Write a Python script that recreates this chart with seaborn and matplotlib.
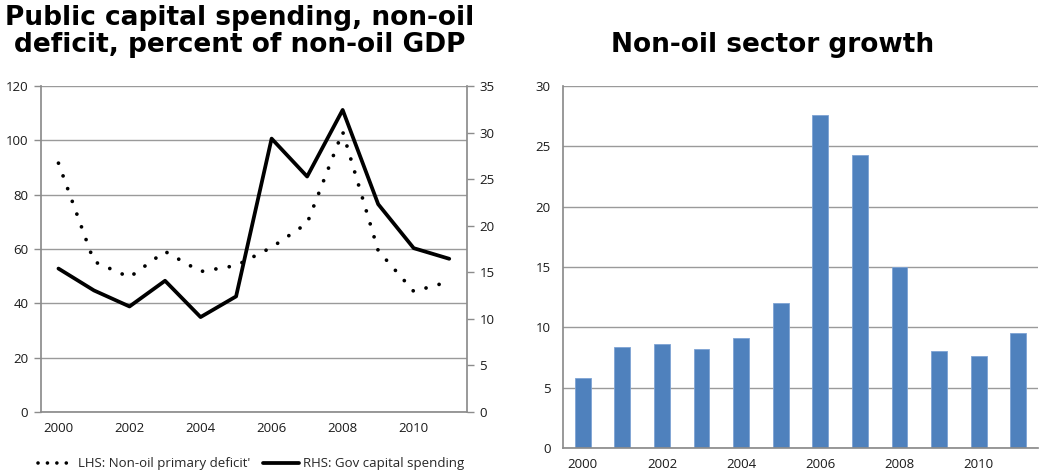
import numpy as np
import pandas as pd
import matplotlib
matplotlib.use("Agg")
import matplotlib.pyplot as plt
from matplotlib.lines import Line2D
import seaborn as sns

years = [2000, 2001, 2002, 2003, 2004, 2005, 2006, 2007, 2008, 2009, 2010, 2011]
year_labels = ["2000", "", "2002", "", "2004", "", "2006", "", "2008", "", "2010", ""]
primary_deficit = [91.6, 55.4, 49.6, 59.1, 51.7, 53.9, 60.6, 69.5, 103.2, 59.4, 44.4, 48.0]
capital_spending = [15.4, 13.05, 11.33, 14.09, 10.19, 12.41, 29.35, 25.28, 32.43, 22.31, 17.59, 16.45]
nonoil_growth = [5.8, 8.4, 8.6, 8.2, 9.1, 12.0, 27.6, 24.3, 15.0, 8.0, 7.65, 9.55]

sns.set_theme(style="white")
plt.rcParams["font.family"] = ["Open Sans", "DejaVu Sans"]

W, H = 1039, 476
fig = plt.figure(figsize=(W / 100, H / 100), dpi=100)

def box(x0, y0, x1, y1):
    return [x0 / W, 1 - y1 / H, (x1 - x0) / W, (y1 - y0) / H]

GRID = "#9a9a9a"
SPINE = "#8c8c8c"
TXT = "#1a1a1a"
TFS = 9.5
DOTS = (0, (0.01, 3.6))

df = pd.DataFrame({"pos": np.arange(len(years)), "year": years,
                   "deficit": primary_deficit, "capex": capital_spending,
                   "growth": nonoil_growth})

def style_cat_axis(ax):
    ax.set_xlim(-0.5, len(years) - 0.5)
    ax.set_xticks(np.arange(len(years)))
    ax.set_xticklabels(year_labels)
    ax.set_xticks(np.arange(len(years) + 1) - 0.5, minor=True)
    ax.tick_params(axis="x", which="major", length=0, pad=7, labelsize=TFS, labelcolor=TXT)
    ax.tick_params(axis="x", which="minor", length=5, width=1, color=SPINE, direction="out")
    ax.set_xlabel("")

# ---- left panel: deficit (LHS) and capital spending (RHS)
ax = fig.add_axes(box(40.7, 86, 467, 412))
sns.lineplot(data=df, x="pos", y="deficit", ax=ax, color="black", lw=2.7,
             linestyle=DOTS, dash_capstyle="round", legend=False)
ax.set_ylim(0, 120)
ax.set_yticks(range(0, 121, 20))
ax.yaxis.grid(True, color=GRID, lw=1)
ax.set_axisbelow(True)
style_cat_axis(ax)
ax.set_ylabel("")
ax.tick_params(axis="y", length=5, width=1, color=SPINE, direction="out", labelsize=TFS, labelcolor=TXT, pad=4)
for s in ["top", "right"]:
    ax.spines[s].set_visible(False)
for s in ["left", "bottom"]:
    ax.spines[s].set_color(SPINE)

ax2 = ax.twinx()
sns.lineplot(data=df, x="pos", y="capex", ax=ax2, color="black", lw=2.7, legend=False)
ax2.set_ylim(0, 35)
ax2.set_yticks(range(0, 36, 5))
ax2.set_ylabel("")
ax2.tick_params(axis="y", length=5, width=1, color=SPINE, direction="out", labelsize=TFS, labelcolor=TXT, pad=4)
ax2.grid(False)
for s in ["top", "left", "bottom"]:
    ax2.spines[s].set_visible(False)
ax2.spines["right"].set_color(SPINE)

fig.text(240 / W, 1 - 5 / H, "Public capital spending, non-oil\ndeficit, percent of non-oil GDP",
         ha="center", va="top", fontsize=19, fontweight="bold", family="DejaVu Sans",
         color="black", linespacing=1.05)

handles = [Line2D([], [], color="black", lw=2.6, linestyle=(0, (0.01, 2.6)), dash_capstyle="round"),
           Line2D([], [], color="black", lw=2.7)]
fig.legend(handles, ["LHS: Non-oil primary deficit'", "RHS: Gov capital spending"],
           loc="center", bbox_to_anchor=(251 / W, 1 - 464 / H), ncol=2, frameon=False,
           fontsize=TFS, handlelength=2.7, handletextpad=0.3, columnspacing=1.0)

# ---- right panel: non-oil growth
bx = fig.add_axes(box(563, 86, 1038, 448))
sns.barplot(data=df, x="pos", y="growth", ax=bx, color="#4F81BD", saturation=1,
            width=0.4, edgecolor="#7ea3d4", linewidth=0.6, native_scale=True)
bx.set_ylim(0, 30)
bx.set_yticks(range(0, 31, 5))
bx.yaxis.grid(True, color=GRID, lw=1)
bx.set_axisbelow(True)
style_cat_axis(bx)
bx.set_ylabel("")
bx.tick_params(axis="y", length=5, width=1, color=SPINE, direction="out", labelsize=TFS, labelcolor=TXT, pad=4)
for s in ["top", "right"]:
    bx.spines[s].set_visible(False)
for s in ["left", "bottom"]:
    bx.spines[s].set_color(SPINE)

fig.text(773 / W, 1 - 32 / H, "Non-oil sector growth", ha="center", va="top",
         fontsize=19, fontweight="bold", family="DejaVu Sans", color="black")

fig.savefig("out.png", dpi=100)
